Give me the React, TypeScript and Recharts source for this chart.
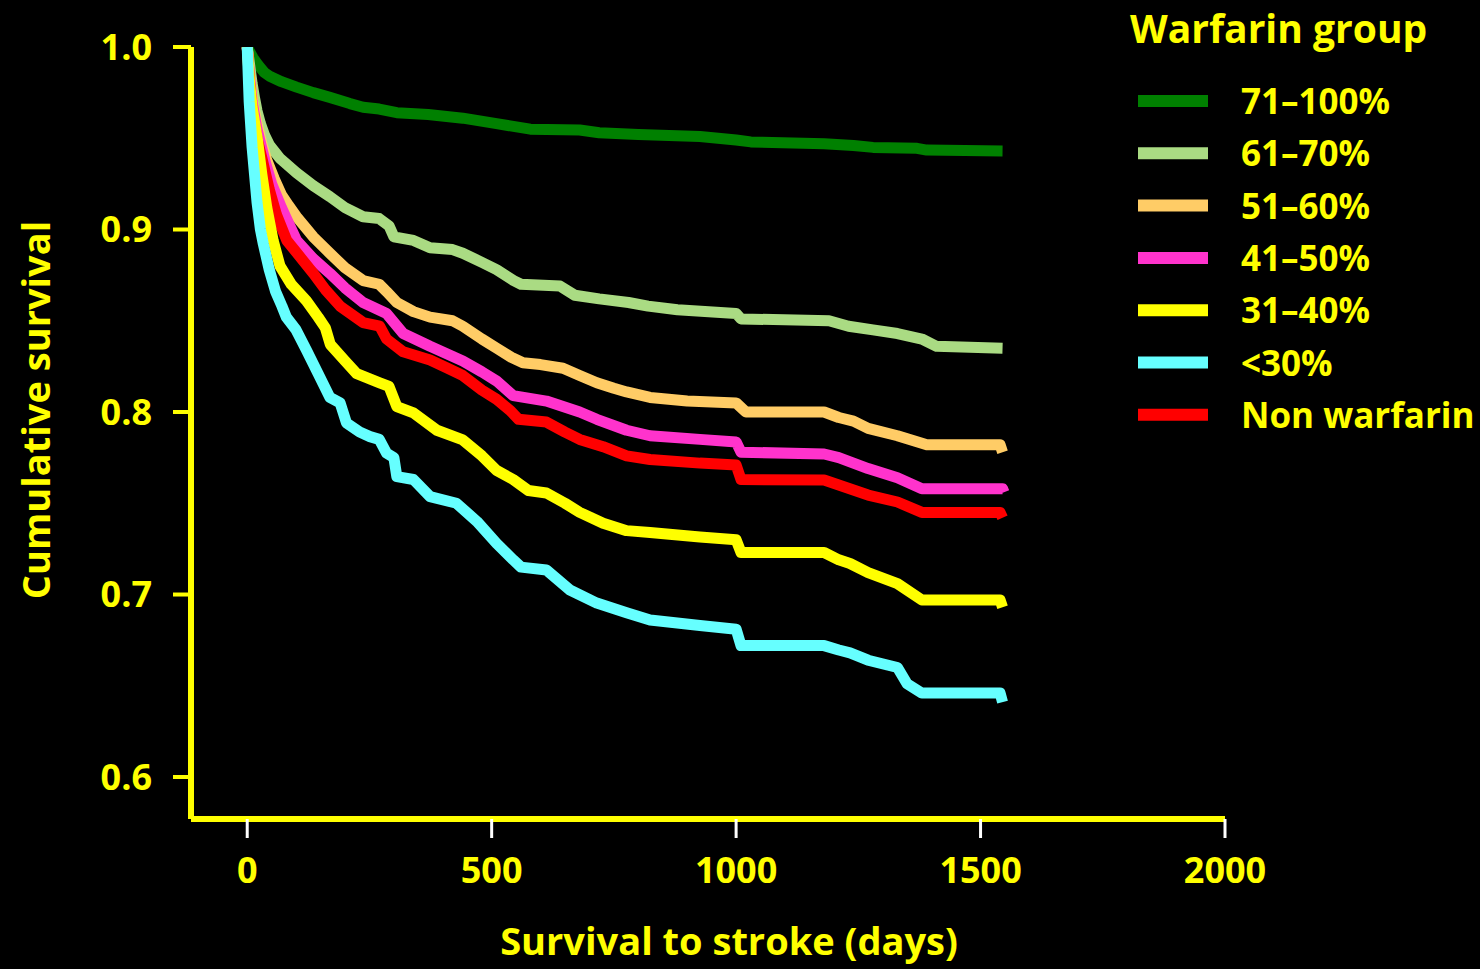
import { CartesianGrid, Customized, Line, LineChart, XAxis, YAxis } from "recharts";

const FONT = "'Open Sans', Lato, sans-serif";
const YELLOW = "#FFFF00";

// Kaplan-Meier curves: [days, cumulative survival]
const warf71to100: [number, number][] = [
  [0, 1], [6, 0.997], [12, 0.994], [20, 0.991], [26, 0.989], [35, 0.986], [46, 0.984],
  [70, 0.981], [101, 0.978], [135, 0.975], [169, 0.9724], [210, 0.969], [237, 0.967],
  [270, 0.966], [306, 0.964], [370, 0.963], [441, 0.961], [510, 0.958], [579, 0.955],
  [680, 0.9545], [720, 0.953], [800, 0.952], [926, 0.951], [1000, 0.949], [1030, 0.948],
  [1180, 0.947], [1240, 0.946], [1280, 0.945], [1370, 0.9445], [1390, 0.9435], [1545, 0.943],
];
const warf61to70: [number, number][] = [
  [0, 1], [5, 0.99], [10, 0.98], [15, 0.972], [20, 0.965], [27, 0.958], [35, 0.952],
  [46, 0.946], [67, 0.939], [101, 0.931], [135, 0.924], [169, 0.918], [200, 0.912],
  [237, 0.907], [270, 0.906], [290, 0.902], [300, 0.896], [340, 0.894], [374, 0.89],
  [420, 0.889], [441, 0.887], [480, 0.882], [510, 0.878], [545, 0.872], [560, 0.87],
  [640, 0.869], [670, 0.864], [720, 0.862], [780, 0.86], [820, 0.858], [880, 0.856],
  [1000, 0.854], [1010, 0.851], [1190, 0.85], [1230, 0.847], [1280, 0.845], [1330, 0.843],
  [1380, 0.84], [1410, 0.836], [1545, 0.835],
];
const warf51to60: [number, number][] = [
  [0, 1], [5, 0.985], [10, 0.972], [20, 0.958], [30, 0.947], [40, 0.938], [55, 0.928],
  [70, 0.919], [85, 0.913], [101, 0.907], [135, 0.896], [169, 0.887], [200, 0.879],
  [237, 0.872], [270, 0.87], [285, 0.866], [306, 0.86], [340, 0.855], [374, 0.852],
  [420, 0.85], [441, 0.847], [480, 0.84], [510, 0.835], [540, 0.83], [564, 0.827],
  [600, 0.826], [646, 0.824], [680, 0.82], [715, 0.816], [750, 0.813], [776, 0.811],
  [824, 0.808], [900, 0.806], [1000, 0.805], [1020, 0.8], [1180, 0.8], [1210, 0.797],
  [1240, 0.795], [1270, 0.791], [1330, 0.787], [1390, 0.782], [1540, 0.782], [1545, 0.778],
];
const warf41to50: [number, number][] = [
  [0, 1], [5, 0.983], [10, 0.97], [20, 0.955], [36, 0.938], [50, 0.925], [70, 0.912],
  [101, 0.894], [135, 0.884], [169, 0.876], [200, 0.868], [237, 0.86], [285, 0.854],
  [319, 0.843], [374, 0.836], [441, 0.828], [480, 0.822], [510, 0.817], [544, 0.809],
  [612, 0.806], [680, 0.8], [715, 0.796], [776, 0.79], [824, 0.787], [926, 0.785],
  [1000, 0.7836], [1010, 0.778], [1180, 0.777], [1210, 0.775], [1270, 0.769],
  [1330, 0.764], [1380, 0.758], [1545, 0.758], [1548, 0.756],
];
const warf31to40: [number, number][] = [
  [0, 1], [5, 0.98], [10, 0.967], [21, 0.949], [30, 0.93], [40, 0.912], [53, 0.894],
  [67, 0.88], [90, 0.87], [121, 0.861], [145, 0.852], [160, 0.846], [170, 0.837],
  [200, 0.828], [224, 0.821], [271, 0.816], [290, 0.814], [306, 0.803], [340, 0.7995],
  [388, 0.79], [441, 0.7847], [480, 0.776], [510, 0.768], [544, 0.763], [575, 0.757],
  [612, 0.7556], [650, 0.75], [680, 0.745], [728, 0.739], [776, 0.735], [824, 0.734],
  [926, 0.7315], [1000, 0.73], [1010, 0.723], [1180, 0.723], [1210, 0.719], [1233, 0.717],
  [1270, 0.712], [1330, 0.706], [1380, 0.697], [1540, 0.697], [1545, 0.693],
];
const warfBelow30: [number, number][] = [
  [0, 1], [4, 0.97], [10, 0.945], [20, 0.915], [27, 0.9], [33, 0.892], [45, 0.878],
  [58, 0.866], [71, 0.858], [80, 0.852], [100, 0.845], [121, 0.834], [145, 0.821],
  [169, 0.808], [190, 0.805], [203, 0.794], [230, 0.789], [251, 0.7865], [270, 0.785],
  [285, 0.7775], [300, 0.775], [306, 0.7646], [340, 0.763], [374, 0.7536], [428, 0.75],
  [470, 0.74], [510, 0.728], [544, 0.719], [560, 0.715], [612, 0.7134], [660, 0.7025],
  [715, 0.6953], [776, 0.69], [824, 0.686], [926, 0.683], [1000, 0.681], [1010, 0.672],
  [1180, 0.672], [1210, 0.6696], [1233, 0.668], [1270, 0.664], [1330, 0.66], [1350, 0.651],
  [1380, 0.646], [1540, 0.646], [1545, 0.641],
];
const nonWarfarin: [number, number][] = [
  [0, 1], [5, 0.98], [10, 0.965], [20, 0.95], [31, 0.938], [45, 0.922], [60, 0.908],
  [81, 0.894], [105, 0.886], [135, 0.876], [160, 0.867], [190, 0.858], [237, 0.849],
  [271, 0.847], [285, 0.84], [319, 0.833], [374, 0.8285], [410, 0.824], [441, 0.82],
  [480, 0.812], [510, 0.807], [537, 0.801], [555, 0.796], [612, 0.7945], [650, 0.789],
  [680, 0.785], [728, 0.781], [776, 0.776], [824, 0.774], [926, 0.772], [1000, 0.771],
  [1010, 0.763], [1180, 0.7627], [1210, 0.76], [1270, 0.7545], [1330, 0.7507],
  [1380, 0.745], [1540, 0.745], [1545, 0.742],
];

const X_TICKS = [0, 500, 1000, 1500, 2000];
const Y_TICKS = [0.6, 0.7, 0.8, 0.9, 1.0];

// drawing order: bottom to top
const SERIES = [
  { name: "71–100%", color: "#008000", points: warf71to100 },
  { name: "61–70%", color: "#AADB83", points: warf61to70 },
  { name: "51–60%", color: "#FFCC66", points: warf51to60 },
  { name: "41–50%", color: "#FF33CC", points: warf41to50 },
  { name: "Non warfarin", color: "#FF0000", points: nonWarfarin },
  { name: "31–40%", color: "#FFFF00", points: warf31to40 },
  { name: "<30%", color: "#66FFFF", points: warfBelow30 },
];

const LEGEND_ORDER = ["71–100%", "61–70%", "51–60%", "41–50%", "31–40%", "<30%", "Non warfarin"];

function Overlay() {
  return (
    <g fontFamily={FONT} fontWeight={700} fill={YELLOW}>
      <text x={729} y={955} fontSize={38} textAnchor="middle">
        Survival to stroke (days)
      </text>
      <text x={50} y={410} fontSize={38} textAnchor="middle" transform="rotate(-90 50 410)">
        Cumulative survival
      </text>
      <text x={1130} y={43} fontSize={39}>
        Warfarin group
      </text>
      {LEGEND_ORDER.map((name, i) => {
        const s = SERIES.find((d) => d.name === name)!;
        const cy = 101 + i * 52.3;
        return (
          <g key={name}>
            <line x1={1138} x2={1208} y1={cy} y2={cy} stroke={s.color} strokeWidth={12} />
            <text x={1241} y={cy + 13} fontSize={35}>
              {name}
            </text>
          </g>
        );
      })}
    </g>
  );
}

export default function App() {
  return (
    <div style={{ position: "absolute", left: 0, top: 0, width: 1480, height: 969, background: "#000" }}>
      <LineChart width={1480} height={969} margin={{ top: 47, right: 255, bottom: 0, left: 0 }}>
        <CartesianGrid stroke="none" fill="none" />
        <XAxis
          dataKey="t"
          type="number"
          domain={[-115, 2000]}
          ticks={X_TICKS}
          allowDataOverflow
          height={150}
          axisLine={{ stroke: YELLOW, strokeWidth: 6 }}
          tickLine={{ stroke: "#FFFFFF", strokeWidth: 3 }}
          tickSize={19}
          tickMargin={19}
          tick={{ fill: YELLOW, fontSize: 36, fontWeight: 700, fontFamily: FONT }}
        />
        <YAxis
          type="number"
          domain={[0.577, 1.0]}
          ticks={Y_TICKS}
          allowDataOverflow
          width={191}
          axisLine={{ stroke: YELLOW, strokeWidth: 6 }}
          tickLine={{ stroke: YELLOW, strokeWidth: 4 }}
          tickSize={18}
          tickMargin={21}
          tickFormatter={(v: number) => v.toFixed(1)}
          tick={{ fill: YELLOW, fontSize: 36, fontWeight: 700, fontFamily: FONT }}
        />
        {SERIES.map((s) => (
          <Line
            key={s.name}
            data={s.points.map(([t, v]) => ({ t, s: v }))}
            dataKey="s"
            name={s.name}
            type="linear"
            stroke={s.color}
            strokeWidth={11}
            strokeLinejoin="round"
            dot={false}
            activeDot={false}
            isAnimationActive={false}
          />
        ))}
        <Customized component={Overlay} />
      </LineChart>
    </div>
  );
}
